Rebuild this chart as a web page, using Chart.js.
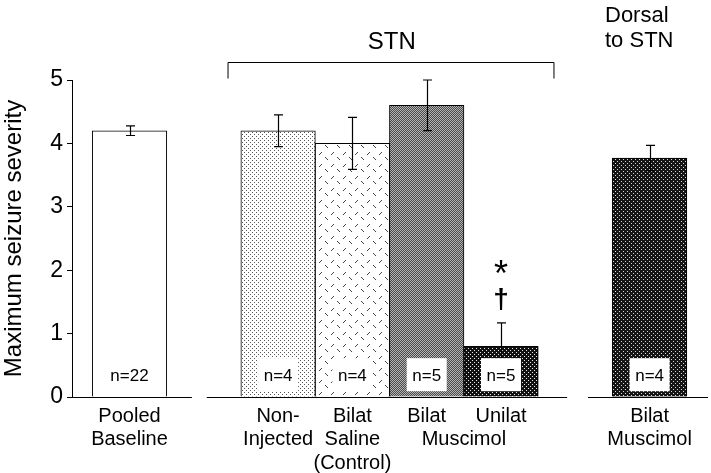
<!DOCTYPE html>
<html>
<head>
<meta charset="utf-8">
<script src="https://cdn.jsdelivr.net/npm/chart.js@4/dist/chart.umd.min.js"></script>
<style>
  html, body { margin: 0; padding: 0; background: #fff; }
  #wrap { width: 711px; height: 473px; position: relative; }
</style>
</head>
<body>
<div id="wrap"><canvas id="c" width="711" height="473"></canvas></div>
<script>
// ---- data ----
const categories = ['Pooled Baseline', 'Non-Injected', 'Bilat Saline (Control)', 'Bilat Muscimol', 'Unilat Muscimol', 'Dorsal Bilat Muscimol'];
const slots = [0, 2, 3, 4, 5, 7];
const means = [4.2, 4.2, 4.0, 4.6, 0.8, 3.77];
const sems = [0.075, 0.25, 0.41, 0.40, 0.37, 0.20];
const nCounts = [22, 4, 4, 5, 5, 4];
const tickValues = [0, 2, 3, 4, 4.5, 5, 7];
const tickLines = [['Pooled', 'Baseline'], ['Non-', 'Injected'], ['Bilat', 'Saline', '(Control)'], ['Bilat'], ['', 'Muscimol'], ['Unilat'], ['Bilat', 'Muscimol']];
const yTicks = [0, 1, 2, 3, 4, 5];
const groupTitle = 'STN';
const dorsalTitle = ['Dorsal', 'to STN'];
const yTitle = 'Maximum seizure severity';

const FONT = "'Liberation Sans', Arial, Helvetica, sans-serif";
Chart.defaults.font.family = FONT;
Chart.defaults.color = '#000';

function makePattern(size, bg, draw) {
  const c = document.createElement('canvas');
  c.width = size; c.height = size;
  const g = c.getContext('2d');
  g.fillStyle = bg; g.fillRect(0, 0, size, size);
  draw(g);
  return g.createPattern(c, 'repeat');
}
const fills = [
  '#ffffff',
  makePattern(4, '#ffffff', g => { g.fillStyle = '#555'; g.fillRect(0, 0, 1, 1); g.fillRect(2, 2, 1, 1); }),
  makePattern(12, '#ffffff', g => {
    g.strokeStyle = '#444'; g.lineWidth = 1;
    g.beginPath(); g.moveTo(1, 1); g.lineTo(4, 4); g.stroke();
    g.beginPath(); g.moveTo(7, 11); g.lineTo(10, 8); g.stroke();
  }),
  makePattern(2, '#4a4a4a', g => { g.fillStyle = '#b4b4b4'; g.fillRect(0, 0, 1, 1); g.fillRect(1, 1, 1, 1); }),
  makePattern(4, '#111111', g => { g.fillStyle = '#e8e8e8'; g.fillRect(0, 0, 1, 1); g.fillRect(2, 2, 1, 1); }),
  makePattern(4, '#151515', g => { g.fillStyle = '#d8d8d8'; g.fillRect(1, 1, 1, 1); g.fillRect(3, 3, 1, 1); })
];

const decor = {
  id: 'decor',
  afterDatasetsDraw(chart) {
    const c = chart.ctx, x = chart.scales.x, y = chart.scales.y;
    c.save();
    // baseline segments
    c.strokeStyle = '#000'; c.lineWidth = 1;
    const y0 = Math.round(y.getPixelForValue(0)) + 0.5;
    [[-0.774, 0.84], [1.04, 5.89], [6.17, 7.786]].forEach(s => {
      c.beginPath(); c.moveTo(x.getPixelForValue(s[0]), y0); c.lineTo(x.getPixelForValue(s[1]), y0); c.stroke();
    });
    // error bars
    c.lineWidth = 1.2;
    means.forEach((m, i) => {
      const px = Math.round(x.getPixelForValue(slots[i])) + 0.5;
      const top = y.getPixelForValue(m + sems[i]);
      const bot = y.getPixelForValue(m - sems[i]);
      c.beginPath();
      c.moveTo(px, top); c.lineTo(px, bot);
      c.moveTo(px - 4.5, top); c.lineTo(px + 4.5, top);
      c.moveTo(px - 4.5, bot); c.lineTo(px + 4.5, bot);
      c.stroke();
    });
    // n labels
    c.font = '17px ' + FONT;
    c.textAlign = 'center'; c.textBaseline = 'middle';
    nCounts.forEach((n, i) => {
      const px = x.getPixelForValue(slots[i]);
      const py = y.getPixelForValue(0.36);
      if (i > 0) { c.fillStyle = '#fff'; c.fillRect(px - 20, py - 16, 40, 33); }
      c.fillStyle = '#000';
      c.fillText('n=' + n, px, py + 2);
    });
    // significance marks
    const ux = x.getPixelForValue(slots[4]);
    c.font = '36px ' + FONT;
    c.fillText('*', ux, y.getPixelForValue(2.0) + 6);
    c.font = 'bold 28px ' + FONT;
    c.fillText('\u2020', ux, y.getPixelForValue(1.53));
    // bracket
    c.lineWidth = 1;
    const by = Math.round(y.getPixelForValue(5.28)) + 0.5;
    const bl = x.getPixelForValue(1.326), br = x.getPixelForValue(5.713);
    c.beginPath();
    c.moveTo(bl, by + 16); c.lineTo(bl, by); c.lineTo(br, by); c.lineTo(br, by + 16);
    c.stroke();
    c.font = '24px ' + FONT;
    c.fillText(groupTitle, x.getPixelForValue(3.53), 42);
    c.textAlign = 'left';
    c.font = '22px ' + FONT;
    c.fillText(dorsalTitle[0], 605, 16);
    c.fillText(dorsalTitle[1], 605, 41);
    c.restore();
  }
};

new Chart(document.getElementById('c'), {
  type: 'bar',
  data: {
    labels: categories,
    datasets: [{
      data: slots.map((s, i) => ({ x: s, y: means[i] })),
      backgroundColor: fills,
      borderColor: '#000',
      borderWidth: 1,
      borderSkipped: 'bottom',
      barThickness: 74.5
    }]
  },
  options: {
    responsive: false,
    animation: false,
    events: [],
    layout: { padding: { left: 0, right: 3, top: 80, bottom: 0 } },
    plugins: { legend: { display: false }, tooltip: { enabled: false } },
    scales: {
      x: {
        type: 'linear',
        min: -0.774, max: 7.786,
        offset: false,
        grid: { display: false, offset: false },
        border: { display: false },
        afterBuildTicks: s => { s.ticks = tickValues.map(v => ({ value: v })); },
        afterFit: s => { s.height = 76; },
        ticks: {
          autoSkip: false, maxRotation: 0, minRotation: 0,
          padding: 0,
          font: { size: 20, lineHeight: 1.16 },
          callback: (v, i) => tickLines[i]
        }
      },
      y: {
        min: 0, max: 5,
        afterBuildTicks: s => { s.ticks = yTicks.map(v => ({ value: v })); },
        afterFit: s => { s.width = 72; },
        grid: { drawOnChartArea: false, drawTicks: true, tickLength: 5, color: '#000', lineWidth: 1 },
        border: { display: true, color: '#000', width: 1 },
        ticks: { padding: 4, font: { size: 23 }, color: '#000' },
        title: { display: true, text: yTitle, font: { size: 24 }, padding: { top: 0, bottom: 0 }, color: '#000' }
      }
    }
  },
  plugins: [decor]
});
</script>
</body>
</html>
